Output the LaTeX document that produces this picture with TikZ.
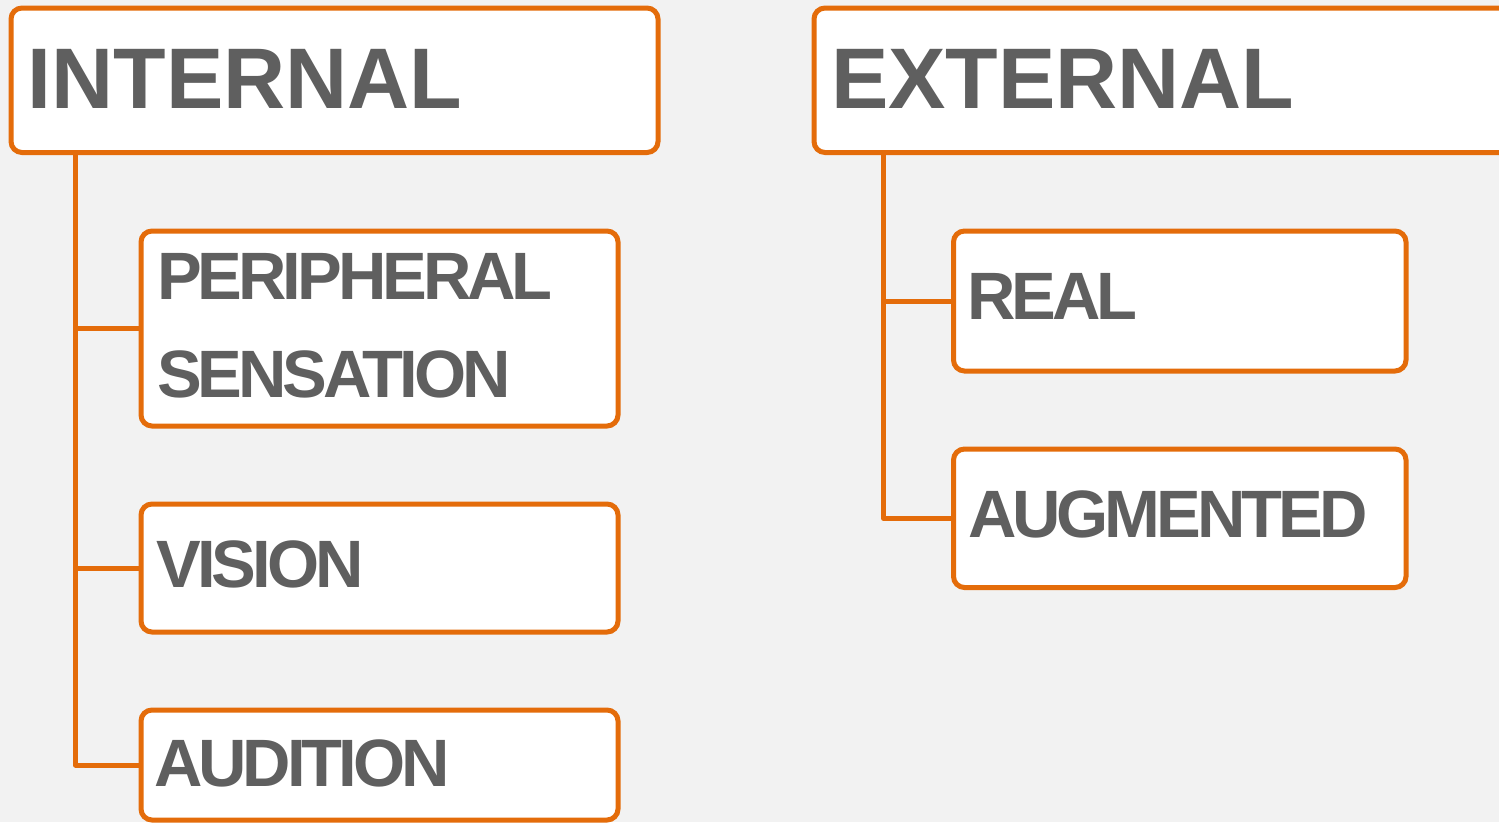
\documentclass[tikz,border=0pt]{standalone}
\usepackage{fontspec}
\setmainfont{Liberation Sans}
\newfontfamily\headfont{Liberation Sans}
\newfontfamily\tightfont[LetterSpace=-6]{Liberation Sans}
\definecolor{boxorange}{HTML}{E46C0A}
\definecolor{labelgray}{HTML}{5F5F5F}
\definecolor{bggray}{HTML}{F2F2F2}
\tikzset{
  box/.style={draw=boxorange, line width=5pt, fill=white, rounded corners=11pt,
    inner sep=0pt, outer sep=0pt, anchor=north west},
  link/.style={draw=boxorange, line width=5pt, line join=round},
  headtext/.style={anchor=base west, inner sep=0pt, outer sep=0pt, text=labelgray,
    font=\headfont\bfseries\fontsize{86}{86}\selectfont},
  subtext/.style={anchor=base west, inner sep=0pt, outer sep=0pt, text=labelgray,
    font=\tightfont\bfseries\fontsize{67}{67}\selectfont}
}
\begin{document}
\begin{tikzpicture}[x=1pt,y=-1pt]
\useasboundingbox (0,0) rectangle (1499,822);
\fill[bggray] (0,0) rectangle (1499,822);
\clip (0,0) rectangle (1499,822);
% boxes
\node[box, minimum width=647pt, minimum height=144.5pt] (internal) at (11,8) {};
\node[box, minimum width=706pt, minimum height=144.5pt] (external) at (814,8) {};
\node[box, minimum width=477pt, minimum height=195pt] (periph) at (141,231) {};
\node[box, minimum width=477pt, minimum height=128pt] (vision) at (141,504) {};
\node[box, minimum width=477pt, minimum height=110pt] (audition) at (141,710) {};
\node[box, minimum width=452.5pt, minimum height=140pt] (real) at (953.5,231) {};
\node[box, minimum width=452.5pt, minimum height=138.5pt] (augm) at (953.5,449) {};
% connectors
\coordinate (itrunk) at ([xshift=64.5pt]internal.south west);
\coordinate (etrunk) at ([xshift=69.5pt]external.south west);
\draw[link] (itrunk) |- (audition.west);
\draw[link] (itrunk |- periph.west) -- (periph.west);
\draw[link] (itrunk |- vision.west) -- (vision.west);
\draw[link] (etrunk) |- (augm.west);
\draw[link] (etrunk |- real.west) -- (real.west);
% labels
\node[headtext] (tinternal) at (27.5,108) {INTERNAL};
\node[headtext] (texternal) at (831,108) {EXTERNAL};
\node[subtext] (tperiph1) at (157,299.5) {PERIPHERAL};
\node[subtext] (tperiph2) at (157,397) {SENSATION};
\node[subtext] (tvision) at (156.5,587.5) {VISION};
\node[subtext] (taudition) at (154,786.5) {AUDITION};
\node[subtext] (treal) at (967,319.5) {REAL};
\node[subtext] (taugm) at (968,537.5) {AUGMENTED};
\end{tikzpicture}
\end{document}
